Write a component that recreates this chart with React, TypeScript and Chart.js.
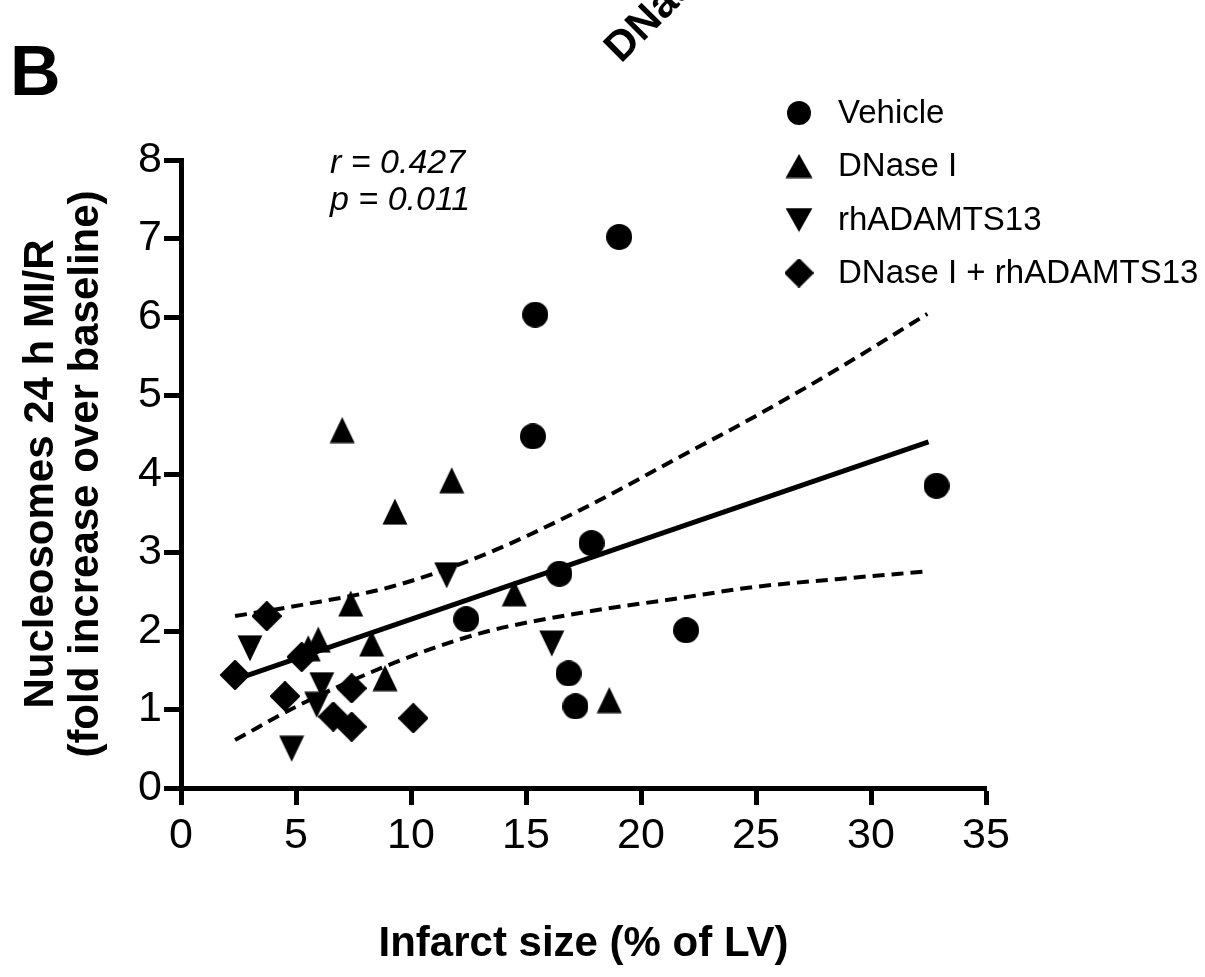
import React, { useEffect, useRef } from 'react';
import { Chart, registerables } from 'chart.js';

Chart.register(...registerables);

// ---------- data ----------
const vehicleX = [15.4, 19.05, 15.3, 32.85, 17.85, 16.45, 12.4, 21.96, 16.85, 17.15];
const vehicleY = [6.03, 7.02, 4.48, 3.85, 3.12, 2.73, 2.15, 2.01, 1.46, 1.04];

const dnaseX = [7.01, 11.77, 9.3, 14.49, 7.38, 5.97, 8.29, 8.87, 18.62, 5.53];
const dnaseY = [4.56, 3.92, 3.52, 2.48, 2.35, 1.89, 1.84, 1.4, 1.12, 1.78];

const adamtsX = [11.55, 16.12, 3.0, 6.12, 5.9, 4.81];
const adamtsY = [2.71, 1.84, 1.78, 1.31, 1.06, 0.5];

const comboX = [3.73, 2.35, 5.25, 4.52, 7.42, 6.62, 7.42, 10.1];
const comboY = [2.19, 1.44, 1.67, 1.17, 1.27, 0.91, 0.78, 0.89];

const fitX = [2.35, 32.5];
const fitY = [1.38, 4.41];

const upperX = [2.35, 5.2, 9.1, 13, 17.35, 21.7, 25, 28.5, 32.45];
const upperY = [2.19, 2.33, 2.56, 2.95, 3.54, 4.22, 4.74, 5.33, 6.04];

const lowerX = [2.35, 5.03, 9.23, 13, 17.35, 21.7, 24.9, 28.5, 32.45];
const lowerY = [0.61, 1.04, 1.59, 1.97, 2.23, 2.42, 2.56, 2.66, 2.76];

const seriesLabels = ['Vehicle', 'DNase I', 'rhADAMTS13', 'DNase I + rhADAMTS13'];
const xTitle = 'Infarct size (% of LV)';
const yTitle = ['Nucleosomes 24 h MI/R', '(fold increase over baseline)'];
const statR = 'r = 0.427';
const statP = 'p = 0.011';
const panelLabel = 'B';
const topTitle = 'DNase I + rhADAMTS13';

const xMin = 0, xMax = 35, xStep = 5;
const yMin = 0, yMax = 8, yStep = 1;

const SANS = "'Liberation Sans', Arial, Helvetica, sans-serif";

type Kind = 'circle' | 'up' | 'down' | 'diamond';

function makeSprite(kind: Kind, w: number, h: number): HTMLCanvasElement {
  const c = document.createElement('canvas');
  c.width = w;
  c.height = h;
  const g = c.getContext('2d')!;
  g.fillStyle = '#000';
  g.strokeStyle = '#000';
  g.beginPath();
  if (kind === 'circle') {
    g.arc(w / 2, h / 2, Math.min(w, h) / 2, 0, Math.PI * 2);
    g.fill();
  } else if (kind === 'up') {
    g.moveTo(w / 2, 0.5);
    g.lineTo(w - 0.5, h - 0.5);
    g.lineTo(0.5, h - 0.5);
    g.closePath();
    g.fill();
  } else if (kind === 'down') {
    g.moveTo(0.5, 0.5);
    g.lineTo(w - 0.5, 0.5);
    g.lineTo(w / 2, h - 0.5);
    g.closePath();
    g.fill();
  } else {
    g.lineJoin = 'round';
    g.lineWidth = 3;
    g.moveTo(w / 2, 1.5);
    g.lineTo(w - 1.5, h / 2);
    g.lineTo(w / 2, h - 1.5);
    g.lineTo(1.5, h / 2);
    g.closePath();
    g.fill();
    g.stroke();
  }
  return c;
}

const pts = (xs: number[], ys: number[]) => xs.map((x, i) => ({ x, y: ys[i] }));

export default function App() {
  const ref = useRef<HTMLCanvasElement>(null);

  useEffect(() => {
    const canvas = ref.current;
    if (!canvas) return;

    const sCircle = makeSprite('circle', 26, 26);
    const sUp = makeSprite('up', 26, 27);
    const sDown = makeSprite('down', 26, 27);
    const sDiamond = makeSprite('diamond', 30, 30);

    const lCircle = makeSprite('circle', 24, 24);
    const lUp = makeSprite('up', 28, 25);
    const lDown = makeSprite('down', 28, 25);
    const lDiamond = makeSprite('diamond', 29, 29);

    const overlay = {
      id: 'overlay',
      afterDraw(chart: any) {
        const ctx: CanvasRenderingContext2D = chart.ctx;
        ctx.save();
        ctx.fillStyle = '#000';
        ctx.textAlign = 'left';
        ctx.textBaseline = 'alphabetic';
        ctx.font = `bold 70px ${SANS}`;
        ctx.fillText(panelLabel, 10, 95);

        ctx.font = `italic 34px ${SANS}`;
        ctx.fillText(statR, 330, 173);
        ctx.fillText(statP, 330, 210);

        // legend
        const rows = [113, 166, 220, 273];
        const sprites = [lCircle, lUp, lDown, lDiamond];
        ctx.font = `33px ${SANS}`;
        ctx.textBaseline = 'middle';
        rows.forEach((y, i) => {
          const s = sprites[i];
          ctx.drawImage(s, 799 - s.width / 2, y - s.height / 2);
          ctx.fillText(seriesLabels[i], 838, y + 1);
        });

        // rotated, clipped title at the top
        ctx.translate(621, 64);
        ctx.rotate(-Math.PI / 4);
        ctx.textBaseline = 'alphabetic';
        ctx.font = `bold 42px ${SANS}`;
        ctx.fillText(topTitle, 0, 0);
        ctx.restore();
      },
    };

    const pointDs = (label: string, xs: number[], ys: number[], img: HTMLCanvasElement) => ({
      label,
      data: pts(xs, ys),
      pointStyle: img,
      pointRadius: 13,
      backgroundColor: '#000',
      borderColor: '#000',
      clip: false,
      order: 0,
    });

    const lineDs = (label: string, xs: number[], ys: number[], dash: number[], width: number) => ({
      label,
      data: pts(xs, ys),
      showLine: true,
      pointRadius: 0,
      borderColor: '#000',
      borderWidth: width,
      borderDash: dash,
      borderCapStyle: 'butt',
      cubicInterpolationMode: 'monotone',
      fill: false,
      clip: false,
      order: 1,
    });

    const chart = new Chart(canvas, {
      type: 'scatter',
      data: {
        datasets: [
          pointDs(seriesLabels[0], vehicleX, vehicleY, sCircle),
          pointDs(seriesLabels[1], dnaseX, dnaseY, sUp),
          pointDs(seriesLabels[2], adamtsX, adamtsY, sDown),
          pointDs(seriesLabels[3], comboX, comboY, sDiamond),
          lineDs('fit', fitX, fitY, [], 5),
          lineDs('upper 95% CI', upperX, upperY, [12, 7], 4),
          lineDs('lower 95% CI', lowerX, lowerY, [12, 7], 4),
        ] as any,
      },
      options: {
        responsive: false,
        animation: false,
        devicePixelRatio: 1,
        layout: { padding: { top: 160, right: 219, left: 0, bottom: 0 } },
        plugins: { legend: { display: false }, tooltip: { enabled: false } },
        scales: {
          x: {
            type: 'linear',
            min: xMin,
            max: xMax,
            ticks: { stepSize: xStep, font: { family: SANS, size: 43 }, color: '#000', padding: 5, maxRotation: 0 },
            grid: { drawOnChartArea: false, drawTicks: true, tickLength: 17, tickWidth: 5, tickColor: '#000' },
            border: { display: true, width: 5, color: '#000' },
            title: {
              display: true,
              text: xTitle,
              color: '#000',
              font: { family: SANS, size: 42, weight: 'bold', lineHeight: 1.07 },
              padding: { top: 0, bottom: 10 },
            },
            afterFit: (s: any) => { s.height = 189; },
          },
          y: {
            type: 'linear',
            min: yMin,
            max: yMax,
            ticks: { stepSize: yStep, font: { family: SANS, size: 43 }, color: '#000', padding: 2 },
            grid: { drawOnChartArea: false, drawTicks: true, tickLength: 17, tickWidth: 5, tickColor: '#000' },
            border: { display: true, width: 5, color: '#000' },
            title: {
              display: true,
              text: yTitle,
              color: '#000',
              font: { family: SANS, size: 42, weight: 'bold', lineHeight: 1.07 },
              padding: { top: 19, bottom: 0 },
            },
            afterFit: (s: any) => { s.width = 181; },
          },
        },
      } as any,
      plugins: [overlay],
    });

    return () => chart.destroy();
  }, []);

  return (
    <div style={{ position: 'absolute', left: 0, top: 0, width: 1205, height: 977, background: '#fff' }}>
      <canvas ref={ref} width={1205} height={977} style={{ display: 'block' }} />
    </div>
  );
}
